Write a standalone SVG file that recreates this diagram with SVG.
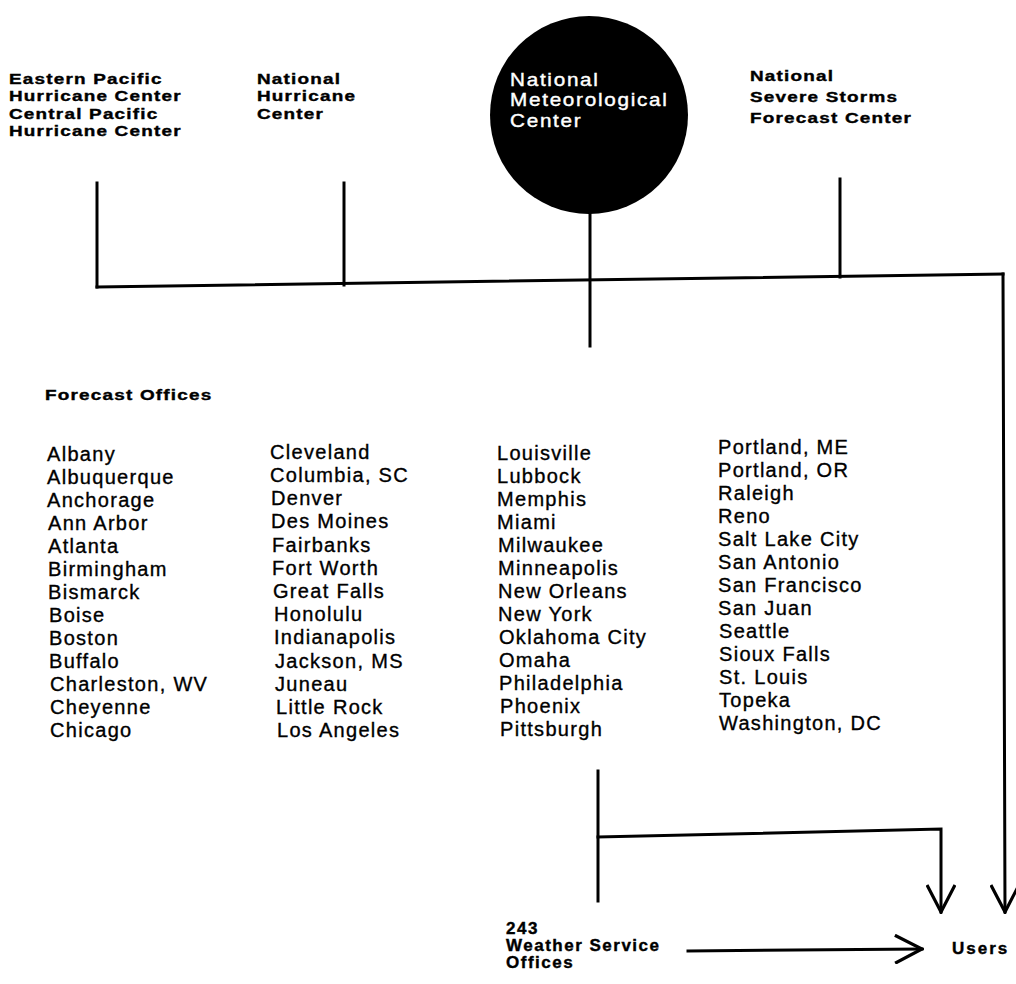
<svg xmlns="http://www.w3.org/2000/svg" width="1016" height="984" viewBox="0 0 1016 984">
  <defs>
    <style>
      text { font-family: "Liberation Sans", Arial, sans-serif; fill: #000; }
      .hdr { font-size: 15.5px; font-weight: bold; letter-spacing: 1px; stroke: #000; stroke-width: 0.4px; }
      .circ { font-size: 18px; fill: #fff; letter-spacing: 1.5px; stroke: #fff; stroke-width: 0.4px; }
      .city { font-size: 20px; letter-spacing: 1.3px; stroke: #000; stroke-width: 0.35px; }
      .bot { font-size: 17px; font-weight: bold; letter-spacing: 1.5px; stroke: #000; stroke-width: 0.4px; }
      .ln { stroke: #000; stroke-width: 3; fill: none; stroke-linecap: square; }
    </style>
    <marker id="vee" viewBox="0 0 30 30" refX="28" refY="15" markerWidth="30" markerHeight="30" markerUnits="userSpaceOnUse" orient="auto">
      <path d="M1,1 L28,15 L1,29" fill="none" stroke="#000" stroke-width="3.2" stroke-linejoin="miter"/>
    </marker>
  </defs>
  <rect width="1016" height="984" fill="#fff"/>

  <g id="connectors">
    <line class="ln" x1="97" y1="183" x2="97" y2="287"/>
    <line class="ln" x1="344" y1="183" x2="344" y2="285"/>
    <line class="ln" x1="590" y1="212" x2="590" y2="346"/>
    <line class="ln" x1="840" y1="179" x2="840" y2="277"/>
    <line class="ln" x1="97" y1="287" x2="1003" y2="274"/>
    <line class="ln" x1="1003" y1="274" x2="1005" y2="912" marker-end="url(#vee)"/>
    <line class="ln" x1="598" y1="771" x2="598" y2="901"/>
    <polyline class="ln" points="598,837 941,829 941,912" marker-end="url(#vee)"/>
    <line class="ln" x1="688" y1="951" x2="922" y2="949" marker-end="url(#vee)"/>
  </g>

  <g id="node-ephc" transform="translate(9,0) scale(1.22,1)">
    <text class="hdr" x="0" y="84">Eastern Pacific</text>
    <text class="hdr" x="0" y="101.5">Hurricane Center</text>
    <text class="hdr" x="0" y="119">Central Pacific</text>
    <text class="hdr" x="0" y="136.5">Hurricane Center</text>
  </g>

  <g id="node-nhc" transform="translate(257,0) scale(1.22,1)">
    <text class="hdr" x="0" y="84">National</text>
    <text class="hdr" x="0" y="101.5">Hurricane</text>
    <text class="hdr" x="0" y="119">Center</text>
  </g>

  <g id="node-nmc">
    <circle cx="589" cy="115" r="99" fill="#000"/>
    <g transform="translate(510,0) scale(1.15,1)">
      <text class="circ" x="0" y="86">National</text>
      <text class="circ" x="0" y="106.5">Meteorological</text>
      <text class="circ" x="0" y="127">Center</text>
    </g>
  </g>

  <g id="node-nssfc" transform="translate(750,0) scale(1.22,1)">
    <text class="hdr" x="0" y="81">National</text>
    <text class="hdr" x="0" y="102">Severe Storms</text>
    <text class="hdr" x="0" y="123">Forecast Center</text>
  </g>

  <g id="node-forecast-offices">
    <g transform="translate(45,0) scale(1.22,1)">
      <text class="hdr" x="0" y="400">Forecast Offices</text>
    </g>
    <g id="col1">
      <text class="city" x="47" y="461">Albany</text>
      <text class="city" x="47" y="484">Albuquerque</text>
      <text class="city" x="47" y="507">Anchorage</text>
      <text class="city" x="48" y="530">Ann Arbor</text>
      <text class="city" x="48" y="553">Atlanta</text>
      <text class="city" x="48" y="576">Birmingham</text>
      <text class="city" x="48" y="599">Bismarck</text>
      <text class="city" x="49" y="622">Boise</text>
      <text class="city" x="49" y="645">Boston</text>
      <text class="city" x="49" y="668">Buffalo</text>
      <text class="city" x="50" y="691">Charleston, WV</text>
      <text class="city" x="50" y="714">Cheyenne</text>
      <text class="city" x="50" y="737">Chicago</text>
    </g>
    <g id="col2">
      <text class="city" x="270" y="459">Cleveland</text>
      <text class="city" x="270" y="482">Columbia, SC</text>
      <text class="city" x="271" y="505">Denver</text>
      <text class="city" x="271" y="528">Des Moines</text>
      <text class="city" x="272" y="552">Fairbanks</text>
      <text class="city" x="272" y="575">Fort Worth</text>
      <text class="city" x="273" y="598">Great Falls</text>
      <text class="city" x="274" y="621">Honolulu</text>
      <text class="city" x="274" y="644">Indianapolis</text>
      <text class="city" x="275" y="668">Jackson, MS</text>
      <text class="city" x="275" y="691">Juneau</text>
      <text class="city" x="276" y="714">Little Rock</text>
      <text class="city" x="277" y="737">Los Angeles</text>
    </g>
    <g id="col3">
      <text class="city" x="497" y="460">Louisville</text>
      <text class="city" x="497" y="483">Lubbock</text>
      <text class="city" x="497" y="506">Memphis</text>
      <text class="city" x="497" y="529">Miami</text>
      <text class="city" x="498" y="552">Milwaukee</text>
      <text class="city" x="498" y="575">Minneapolis</text>
      <text class="city" x="498" y="598">New Orleans</text>
      <text class="city" x="498" y="621">New York</text>
      <text class="city" x="499" y="644">Oklahoma City</text>
      <text class="city" x="499" y="667">Omaha</text>
      <text class="city" x="499" y="690">Philadelphia</text>
      <text class="city" x="500" y="713">Phoenix</text>
      <text class="city" x="500" y="736">Pittsburgh</text>
    </g>
    <g id="col4">
      <text class="city" x="718" y="454">Portland, ME</text>
      <text class="city" x="718" y="477">Portland, OR</text>
      <text class="city" x="718" y="500">Raleigh</text>
      <text class="city" x="718" y="523">Reno</text>
      <text class="city" x="718" y="546">Salt Lake City</text>
      <text class="city" x="718" y="569">San Antonio</text>
      <text class="city" x="718" y="592">San Francisco</text>
      <text class="city" x="718" y="615">San Juan</text>
      <text class="city" x="719" y="638">Seattle</text>
      <text class="city" x="719" y="661">Sioux Falls</text>
      <text class="city" x="719" y="684">St. Louis</text>
      <text class="city" x="719" y="707">Topeka</text>
      <text class="city" x="719" y="730">Washington, DC</text>
    </g>
  </g>

  <g id="node-wso">
    <text class="bot" x="506" y="934">243</text>
    <text class="bot" x="506" y="951">Weather Service</text>
    <text class="bot" x="506" y="968">Offices</text>
  </g>

  <g id="node-users">
    <text class="bot" x="952" y="954" style="letter-spacing:2px">Users</text>
  </g>
</svg>
